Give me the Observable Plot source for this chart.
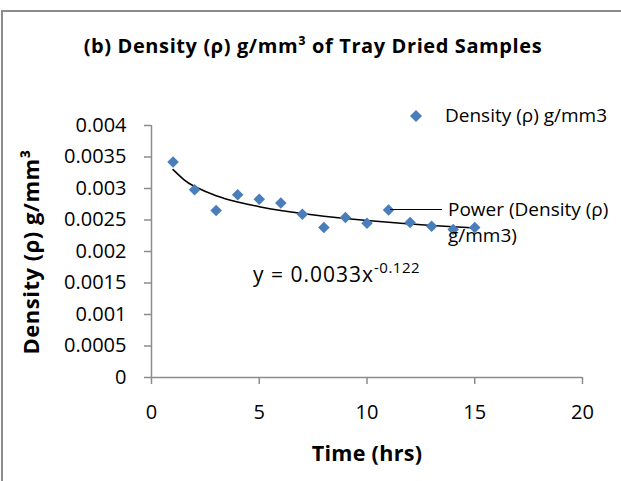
<!DOCTYPE html>
<html>
<head>
<meta charset="utf-8">
<script src="https://cdn.jsdelivr.net/npm/d3@7"></script>
<script src="https://cdn.jsdelivr.net/npm/@observablehq/plot@0.6"></script>
<style>
  html, body { margin: 0; padding: 0; background: #fff; }
  #wrap { position: relative; width: 621px; height: 481px; overflow: hidden; font-family: "Open Sans", sans-serif; color: #000; }
  #frame { position: absolute; left: 1px; top: 10px; width: 640px; height: 500px; border-left: 2px solid #8c8c8c; border-top: 2px solid #8c8c8c; box-sizing: border-box; }
  #chart { position: absolute; left: 0; top: 0; }
  .abs { position: absolute; white-space: nowrap; }
  #title { left: 0; width: 626px; top: 32px; text-align: center; font-weight: bold; font-size: 20px; letter-spacing: 0.6px; line-height: 28px; }
  #ylab { left: 30px; top: 252px; transform: translate(-50%, -50%) rotate(-90deg); font-weight: bold; font-size: 22px; letter-spacing: 0.5px; }
  #xlab { left: 367px; top: 452px; transform: translate(-50%, -50%); font-weight: bold; font-size: 21.5px; letter-spacing: 0.3px; }
  #eq { left: 253px; top: 253px; font-size: 21px; letter-spacing: 1px; line-height: 30px; }
  #eq sup { font-size: 15px; letter-spacing: 0.5px; position: relative; top: -1px; }
  .leg { font-size: 19px; line-height: 26px; }
</style>
</head>
<body>
<div id="wrap">
  <div id="frame"></div>
  <div id="chart"></div>
  <div id="title" class="abs">(b) Density (ρ) g/mm³ of Tray Dried Samples</div>
  <div id="ylab" class="abs">Density (ρ) g/mm³</div>
  <div id="xlab" class="abs">Time (hrs)</div>
  <div id="eq" class="abs">y = 0.0033x<sup>-0.122</sup></div>
  <div class="abs leg" style="left:408px; top:101px;">
    <svg width="16" height="16" style="vertical-align:middle; margin-right:21px;"><path d="M8,2 L14,8 L8,14 L2,8 Z" fill="#4a7ebb"/></svg><span style="position:relative; top:1px;">Density (ρ) g/mm3</span>
  </div>
  <div class="abs" style="left:390px; top:208.5px; width:52px; height:1.5px; background:#000;"></div>
  <div class="abs leg" style="left:448px; top:196px;">Power (Density (ρ)<br>g/mm3)</div>
</div>
<script>
// Measured density (g/mm3) vs drying time (hrs)
const timeHrs = [1, 2, 3, 4, 5, 6, 7, 8, 9, 10, 11, 12, 13, 14, 15];
const density = [0.00342, 0.00298, 0.00265, 0.0029, 0.00283, 0.00277, 0.00259, 0.00238, 0.00254, 0.00245, 0.00266, 0.00246, 0.0024, 0.00235, 0.00238];

// Power trendline values (y = 0.0033x^-0.122)
const trendX = [1, 1.5, 2, 3, 4, 5, 6, 7, 8, 9, 10, 11, 12, 13, 14, 15];
const trendY = [0.0033, 0.003141, 0.003032, 0.002886, 0.002787, 0.002712, 0.002652, 0.002603, 0.002561, 0.002524, 0.002492, 0.002463, 0.002437, 0.002413, 0.002392, 0.002372];

const xTicks = [0, 5, 10, 15, 20];
const yTicks = [0, 0.0005, 0.001, 0.0015, 0.002, 0.0025, 0.003, 0.0035, 0.004];
const yTickLabels = ["0", "0.0005", "0.001", "0.0015", "0.002", "0.0025", "0.003", "0.0035", "0.004"];

const points = timeHrs.map((t, i) => ({t, d: density[i]}));
const trend = trendX.map((t, i) => ({t, d: trendY[i]}));

const axisColor = "#8c8c8c";

const chart = Plot.plot({
  width: 621,
  height: 481,
  marginLeft: 151,
  marginRight: 39,
  marginTop: 125,
  marginBottom: 104,
  style: { fontFamily: "Open Sans, sans-serif", fontSize: "20px", color: "#000", background: "transparent", overflow: "visible" },
  x: { domain: [0, 20] },
  y: { domain: [0, 0.004] },
  marks: [
    Plot.ruleY([0], { stroke: axisColor, strokeWidth: 1.5 }),
    Plot.ruleX([0], { stroke: axisColor, strokeWidth: 1.5 }),
    Plot.axisX({ ticks: xTicks, tickSize: 7, tickPadding: 20, stroke: axisColor, fill: "#000", strokeWidth: 1.5, label: null }),
    Plot.axisY({ ticks: yTicks, tickSize: 7, tickPadding: 18, stroke: axisColor, fill: "#000", strokeWidth: 1.5, label: null,
      tickFormat: (d) => yTickLabels[yTicks.indexOf(d)] }),
    Plot.line(trend, { x: "t", y: "d", curve: "natural", stroke: "#000", strokeWidth: 1.5 }),
    Plot.dot(points, { x: "t", y: "d", symbol: "diamond2", fill: "#4a7ebb", r: 5.2 })
  ]
});
document.getElementById("chart").appendChild(chart);
</script>
</body>
</html>
